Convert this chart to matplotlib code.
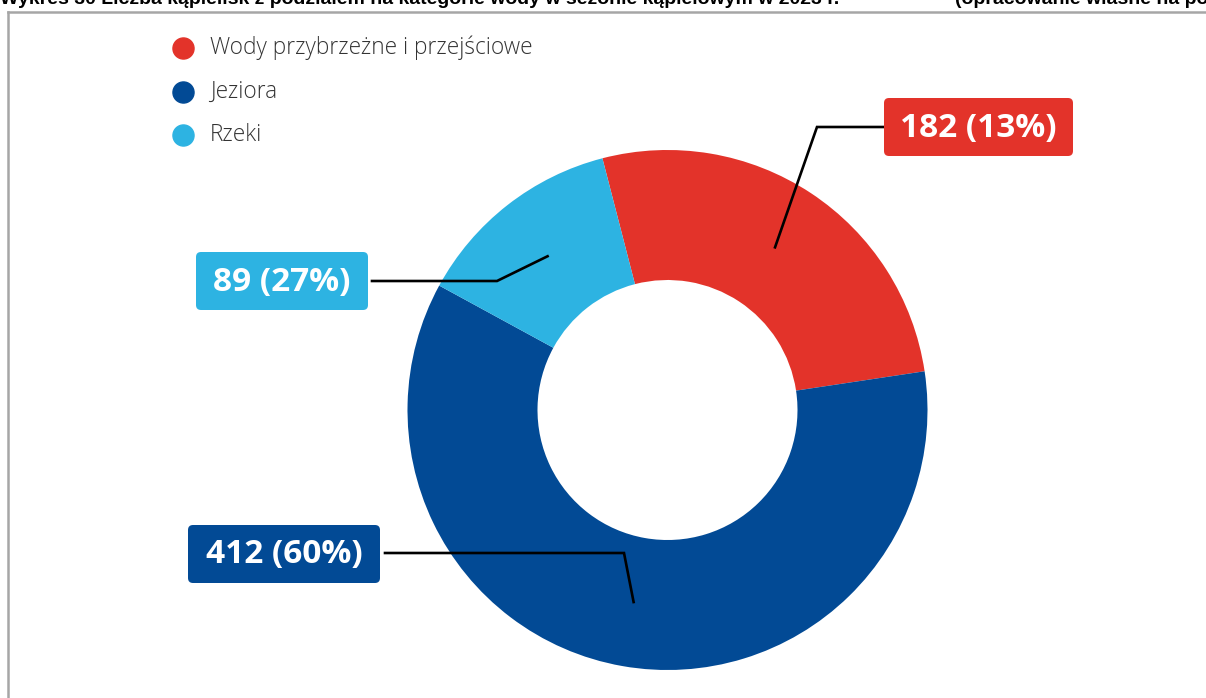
import matplotlib
matplotlib.use("Agg")
import numpy as np
import matplotlib.pyplot as plt
from matplotlib.patches import FancyBboxPatch

# data
categories = ["Wody przybrzeżne i przejściowe", "Jeziora", "Rzeki"]
counts = [182, 412, 89]
box_labels = ["182 (13%)", "412 (60%)", "89 (27%)"]
colors = ["#E3332A", "#024A95", "#2DB3E2"]

title = "Wykres 30 Liczba kąpielisk z podziałem na kategorie wody w sezonie kąpielowym w 2023 r."
source = "(opracowanie własne na podstawie danych GIS)"

W, H = 1206, 698
fig = plt.figure(figsize=(W / 100, H / 100), dpi=100)
ax = fig.add_axes([0, 0, 1, 1])

# donut, drawn in pixel units (y up)
cx, cy, R = 667.5, 288, 260
wedges, _ = ax.pie(counts, colors=colors, startangle=104.5, counterclock=False,
                   center=(cx, cy), radius=R,
                   wedgeprops=dict(width=R / 2, linewidth=0))
ax.set_xlim(0, W)
ax.set_ylim(0, H)
ax.axis("off")

# leader lines: anchor at ring middle -> elbow -> box
elbows = [(817, 571), (624, 145), (497, 417)]
ends = [(883, 571), (385, 145), (372, 417)]
boxes = [(884, 542, 189, 58), (188, 115, 192, 58), (196, 388, 172, 58)]
for w, el, en, bx, lab, col in zip(wedges, elbows, ends, boxes, box_labels, colors):
    mid = np.deg2rad((w.theta1 + w.theta2) / 2)
    ax_pt = (cx + 0.75 * R * np.cos(mid), cy + 0.75 * R * np.sin(mid))
    ax.plot([ax_pt[0], el[0], en[0]], [ax_pt[1], el[1], en[1]],
            color="black", lw=1.9, solid_joinstyle="miter", zorder=3)
    x0, y0, bw, bh = bx
    ax.add_patch(FancyBboxPatch((x0 + 4, y0 + 4), bw - 8, bh - 8,
                                boxstyle="round,pad=4,rounding_size=5",
                                fc=col, ec="none", zorder=4))
    ax.text(x0 + bw / 2, y0 + bh / 2 - 1, lab, color="white", fontsize=24,
            fontweight="bold", family="Open Sans", ha="center", va="center", zorder=5)

# legend
for i, (cat, col) in enumerate(zip(categories, colors)):
    y = H - 48 - i * 43.5
    ax.scatter([183], [y], s=230, color=col, zorder=5)
    ax.text(210, y, cat, fontsize=16.3, family="Open Sans", fontweight="light",
            color="#333333", va="center", ha="left")

# frame
ax.plot([8, W], [H - 12, H - 12], color="#A6A6A6", lw=1.8, clip_on=False)
ax.plot([8, 8], [H - 12, 0], color="#A6A6A6", lw=1.8, clip_on=False)

# title, cut off at the top edge as in the source image
ax.text(0, H - 4.5, title, fontsize=14, fontweight="bold", family="Liberation Sans",
        va="baseline", ha="left", color="black")
ax.text(955, H - 4.5, source, fontsize=14, fontweight="bold", family="Liberation Sans",
        va="baseline", ha="left", color="black")

fig.savefig("out.png", dpi=100)
